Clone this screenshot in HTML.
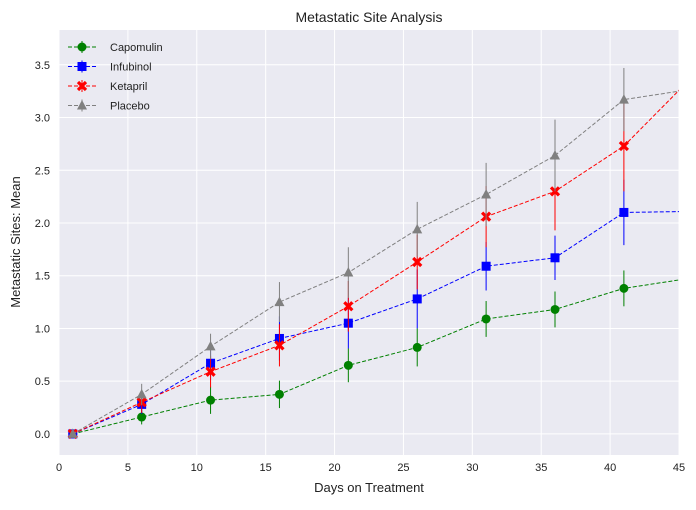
<!DOCTYPE html>
<html><head><meta charset="utf-8"><style>
body{margin:0;background:#fff;font-family:"Liberation Sans","DejaVu Sans",sans-serif;}
svg text{font-family:"Liberation Sans","DejaVu Sans",sans-serif;}
</style></head><body>
<svg id="chart" width="696" height="505" xmlns="http://www.w3.org/2000/svg">
<defs><clipPath id="clip"><rect x="59" y="30" width="620" height="425"/></clipPath></defs>
<rect x="59" y="30" width="620" height="425" fill="#EAEAF2"/>
<g id="grid"></g>
<g id="series" clip-path="url(#clip)"></g>
<g id="ticks"></g>
<text x="369" y="22" text-anchor="middle" font-size="14" fill="#222">Metastatic Site Analysis</text>
<text x="369" y="492" text-anchor="middle" font-size="13" fill="#222">Days on Treatment</text>
<text transform="translate(20,242) rotate(-90)" text-anchor="middle" font-size="13" fill="#222">Metastatic Sites: Mean</text>
<g id="legend"></g>
</svg>
<script>
const days = [1, 6, 11, 16, 21, 26, 31, 36, 41, 46];
const seriesNames = ["Capomulin", "Infubinol", "Ketapril", "Placebo"];
const capomulin = [0, 0.16, 0.32, 0.375, 0.65, 0.82, 1.09, 1.18, 1.38, 1.48];
const infubinol = [0, 0.28, 0.67, 0.905, 1.05, 1.28, 1.59, 1.67, 2.1, 2.11];
const ketapril = [0, 0.30, 0.59, 0.84, 1.21, 1.63, 2.06, 2.30, 2.73, 3.39];
const placebo = [0, 0.375, 0.83, 1.25, 1.53, 1.94, 2.27, 2.64, 3.17, 3.27];
const capomulinErr = [0, 0.07, 0.13, 0.13, 0.16, 0.18, 0.17, 0.17, 0.17, 0.2];
const infubinolErr = [0, 0.09, 0.16, 0.21, 0.24, 0.28, 0.23, 0.21, 0.31, 0.3];
const ketaprilErr = [0, 0.1, 0.15, 0.2, 0.24, 0.26, 0.29, 0.37, 0.43, 0.46];
const placeboErr = [0, 0.1, 0.12, 0.19, 0.24, 0.26, 0.3, 0.34, 0.3, 0.3];
const xTicks = [0, 5, 10, 15, 20, 25, 30, 35, 40, 45];
const yTicks = [0.0, 0.5, 1.0, 1.5, 2.0, 2.5, 3.0, 3.5];

const NS = "http://www.w3.org/2000/svg";
const X0 = 59, X1 = 679, Y0 = 455, Y1 = 30;
const xMin = 0, xMax = 45, yMin = -0.2, yMax = 3.83;
const xs = v => X0 + (v - xMin) / (xMax - xMin) * (X1 - X0);
const ys = v => Y0 - (v - yMin) / (yMax - yMin) * (Y0 - Y1);
function mk(tag, attrs, parent){const e=document.createElementNS(NS,tag);for(const k in attrs)e.setAttribute(k,attrs[k]);parent.appendChild(e);return e;}

const grid=document.getElementById('grid'), ticks=document.getElementById('ticks');
xTicks.forEach(t=>{
  const l=mk('line',{x1:xs(t),x2:xs(t),y1:Y1,y2:Y0,stroke:'#fff','stroke-width':1},grid);
  
  
  const tx=mk('text',{x:xs(t),y:Y0+16,'text-anchor':'middle','font-size':11,fill:'#222'},ticks);
  tx.textContent=t;
  
  
});
yTicks.forEach(t=>{
  const l=mk('line',{x1:X0,x2:X1,y1:ys(t),y2:ys(t),stroke:'#fff','stroke-width':1},grid);
  
  
  const tx=mk('text',{x:X0-9,y:ys(t)+4,'text-anchor':'end','font-size':11,fill:'#222'},ticks);
  tx.textContent=t.toFixed(1);
  
  
});

const vals=[capomulin,infubinol,ketapril,placebo];
const errs=[capomulinErr,infubinolErr,ketaprilErr,placeboErr];
const colors=['green','blue','red','gray'];
const markers=['circle','square','x','triangle'];
function marker(type,cx,cy,color,parent){
  let e;
  if(type==='circle') e=mk('circle',{cx:cx,cy:cy,r:4.5,fill:color},parent);
  else if(type==='square') e=mk('rect',{x:cx-4.5,y:cy-4.5,width:9,height:9,fill:color},parent);
  else if(type==='triangle') e=mk('polygon',{points:`${cx},${cy-5.5} ${cx-5},${cy+4} ${cx+5},${cy+4}`,fill:color},parent);
  else { e=mk('path',{d:`M${cx-4},${cy-4}L${cx+4},${cy+4}M${cx+4},${cy-4}L${cx-4},${cy+4}`,stroke:color,'stroke-width':3.2},parent); }
  return e;
}
const sg=document.getElementById('series');
vals.forEach((v,i)=>{
  const g=mk('g',{},sg);
  
  
  const pts=days.map((d,j)=>xs(d)+','+ys(v[j])).join(' ');
  const pl=mk('polyline',{points:pts,fill:'none',stroke:colors[i],'stroke-width':1,'stroke-dasharray':'4,2'},g);
  
  
  days.forEach((d,j)=>{
    const eb=mk('line',{x1:xs(d),x2:xs(d),y1:ys(v[j]-errs[i][j]),y2:ys(v[j]+errs[i][j]),stroke:colors[i],'stroke-width':1},g);
    
    
    const m=marker(markers[i],xs(d),ys(v[j]),colors[i],g);
    
    
  });
});

const lg=document.getElementById('legend');
seriesNames.forEach((n,i)=>{
  const y=47+i*19.5;
  const g=mk('g',{},lg);
  
  
  mk('line',{x1:68,x2:96,y1:y,y2:y,stroke:colors[i],'stroke-width':1,'stroke-dasharray':'4,2'},g);
  mk('line',{x1:82,x2:82,y1:y-6,y2:y+6,stroke:colors[i],'stroke-width':1},g);
  marker(markers[i],82,y,colors[i],g);
  const t=mk('text',{x:110,y:y+4,'font-size':11,fill:'#222'},g);
  t.textContent=n;
});
</script>
</body></html>
